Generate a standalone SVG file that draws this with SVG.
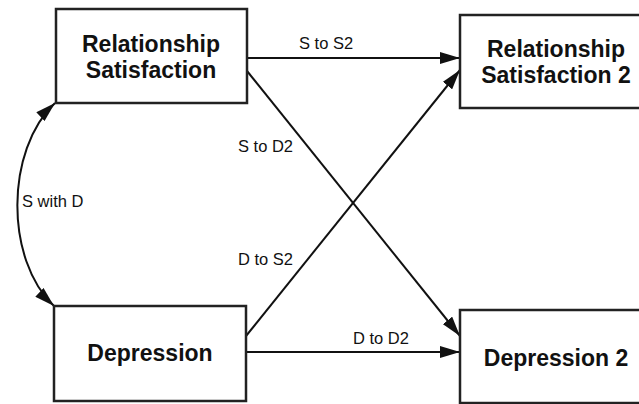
<svg xmlns="http://www.w3.org/2000/svg" width="639" height="404" viewBox="0 0 639 404">
<style>
.box{fill:#fff;stroke:#222;stroke-width:2.5}
.nt{font-family:"Liberation Sans",Arial,sans-serif;font-weight:bold;font-size:23px;fill:#111;text-anchor:middle}
.lbl{font-family:"Liberation Sans",Arial,sans-serif;font-size:16.5px;fill:#111}
.edge{fill:none;stroke:#111;stroke-width:2}
</style>
<defs>
<marker id="ah" viewBox="0 0 20 12" refX="20" refY="6" markerWidth="20" markerHeight="12" markerUnits="userSpaceOnUse" orient="auto-start-reverse">
<path d="M0,0 L20,6 L0,12 Z" fill="#111"/>
</marker>
</defs>
<rect width="639" height="404" fill="#fff"/>
<g id="connectors">
<line class="edge" x1="247" y1="58" x2="460" y2="58" marker-end="url(#ah)"/>
<line class="edge" x1="247" y1="71" x2="460" y2="336" marker-end="url(#ah)"/>
<line class="edge" x1="246" y1="336" x2="460" y2="70" marker-end="url(#ah)"/>
<line class="edge" x1="246" y1="352" x2="460" y2="352" marker-end="url(#ah)"/>
<path class="edge" d="M55,103 C5,150 5,260 54,306" marker-start="url(#ah)" marker-end="url(#ah)"/>
<text class="lbl" x="299" y="49">S to S2</text>
<text class="lbl" x="238" y="152">S to D2</text>
<text class="lbl" x="238" y="265">D to S2</text>
<text class="lbl" x="353" y="344">D to D2</text>
<text class="lbl" x="22" y="207">S with D</text>
</g>
<g id="node-rs">
<rect class="box" x="56" y="9" width="191" height="94"/>
<text class="nt" x="151" y="52">Relationship</text>
<text class="nt" x="151" y="78">Satisfaction</text>
</g>
<g id="node-rs2">
<rect class="box" x="460" y="15" width="191" height="93"/>
<text class="nt" x="556" y="57">Relationship</text>
<text class="nt" x="556" y="83">Satisfaction 2</text>
</g>
<g id="node-d">
<rect class="box" x="54" y="306" width="192" height="95"/>
<text class="nt" x="150" y="361">Depression</text>
</g>
<g id="node-d2">
<rect class="box" x="460" y="310" width="191" height="93"/>
<text class="nt" x="556" y="366">Depression 2</text>
</g>
</svg>
